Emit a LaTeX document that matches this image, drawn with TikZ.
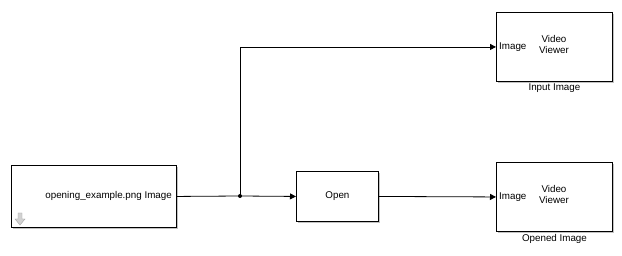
\documentclass[tikz,border=0pt]{standalone}
\usepackage{fontspec}
\setmainfont{Liberation Sans}
\usepackage{tikz}
\usetikzlibrary{arrows.meta,positioning,shadows}
\tikzset{
  blk/.style={draw, line width=0.9pt, fill=white, anchor=north west, inner sep=0pt,
    drop shadow={shadow xshift=1.5pt, shadow yshift=-1.5pt, opacity=0.4, fill=black!60}},
  sig/.style={line width=0.8pt, -{Triangle[length=6pt,width=6pt]}},
  lbl/.style={font=\fontsize{9.8}{11}\selectfont, inner sep=0pt, align=center}
}

\begin{document}
\begin{tikzpicture}[x=1pt, y=-1pt]
      \useasboundingbox (0,0) rectangle (622,256);

      % --- source block ---
      \node[blk, minimum width=165pt, minimum height=62pt] (src) at (11,165) {};
      \node[lbl, anchor=east] (srclbl) at (172,196) {opening\_example.png Image};
      % gray arrow icon
      \draw[gray!70, fill=gray!35, line width=0.4pt]
        (18,213) -- (22,213) -- (22,219) -- (25,219) -- (20,225) -- (15,219) -- (18,219) -- cycle;

      % --- Open block ---
      \node[blk, minimum width=82pt, minimum height=50pt] (opn) at (296,171) {};
      \node[lbl] (opnlbl) at (opn.center) {Open};

      % --- viewers ---
      \node[blk, minimum width=116pt, minimum height=69pt] (view1) at (496,12) {};
      \node[lbl, anchor=west] (in1) at ([xshift=3pt]view1.west) {Image};
      \node[lbl] (vv1) at (554,45) {Video\\Viewer};
      \node[lbl, anchor=north] (cap1) at ([yshift=-2pt]view1.south) {Input Image};

      \node[blk, minimum width=116pt, minimum height=69pt] (view2) at (496,162) {};
      \node[lbl, anchor=west] (in2) at ([xshift=3pt]view2.west) {Image};
      \node[lbl] (vv2) at (554,195) {Video\\Viewer};
      \node[lbl, anchor=north] (cap2) at ([yshift=-2pt]view2.south) {Opened Image};

      % --- signals ---
      \coordinate (jn) at (240,196);
      \draw[line width=0.8pt] (src.east) -- (jn);
      \draw[sig] (jn) -- (opn.west);
      \draw[sig] (jn) |- (view1.west);
      \draw[sig] (opn.east) -- (view2.west);
      \fill (jn) circle (2pt);
    \end{tikzpicture}
\end{document}
